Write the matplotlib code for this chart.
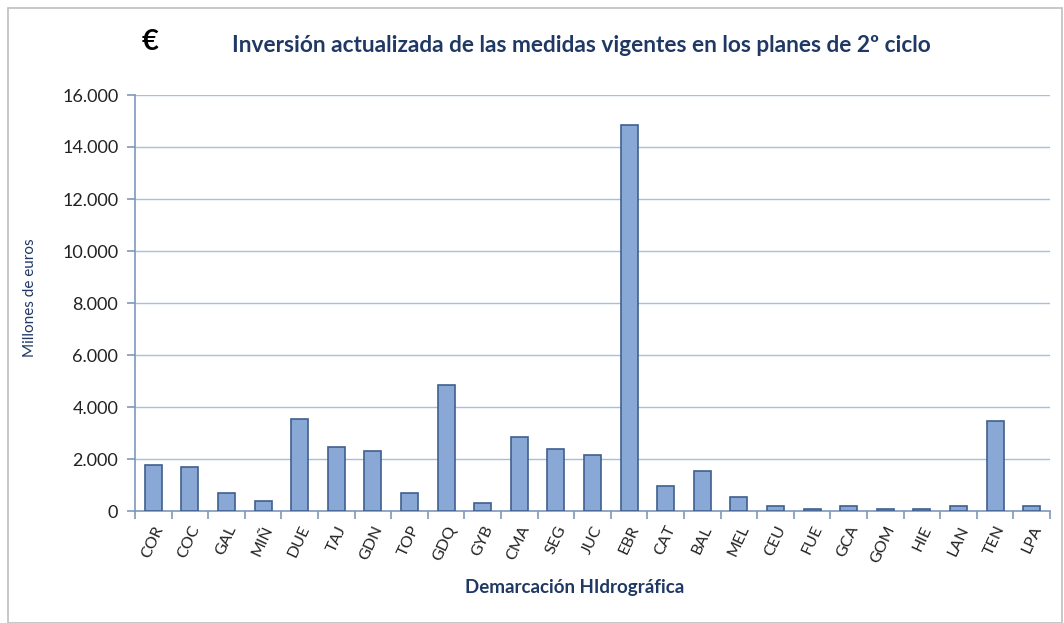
import matplotlib
matplotlib.use("Agg")
import matplotlib.pyplot as plt
from matplotlib.patches import Rectangle
from matplotlib.ticker import FuncFormatter

plt.rcParams['font.family'] = ['Lato', 'DejaVu Sans']

categories = ["COR", "COC", "GAL", "MIÑ", "DUE", "TAJ", "GDN", "TOP", "GDQ", "GYB",
              "CMA", "SEG", "JUC", "EBR", "CAT", "BAL", "MEL", "CEU", "FUE", "GCA",
              "GOM", "HIE", "LAN", "TEN", "LPA"]
inversion = [1760, 1690, 680, 390, 3540, 2460, 2300, 680, 4850, 300,
             2850, 2380, 2150, 14850, 980, 1530, 530, 200, 80, 200,
             80, 70, 200, 3460, 200]
y_ticks = [0, 2000, 4000, 6000, 8000, 10000, 12000, 14000, 16000]

navy = "#1F3864"
grid_c = "#A7BEDC"
axis_c = "#7F97BC"

fig = plt.figure(figsize=(10.64, 6.23), dpi=100)
W, H = 1064, 623

# outer chart frame
fig.patches.append(Rectangle((8 / W, 0), (1062 - 8) / W, (H - 8) / H,
                             transform=fig.transFigure, fill=False,
                             edgecolor="#BFBFBF", linewidth=1.2))

n = len(categories)
ax = fig.add_axes([135 / W, 1 - 511 / H, 915 / W, (511 - 95) / H])
x = list(range(n))
ax.bar(x, inversion, width=0.46, color="#8AA8D6", edgecolor="#3F5F8F",
       linewidth=1.2, zorder=3)

ax.set_xlim(-0.5, n - 0.5)
ax.set_ylim(0, 16000)
ax.set_yticks(y_ticks)
ax.yaxis.set_major_formatter(FuncFormatter(lambda v, p: f"{int(v):,}".replace(",", ".")))
ax.grid(axis="y", color=grid_c, linewidth=1.0, zorder=0)

ax.set_xticks(x)
ax.set_xticklabels(categories, rotation=65, ha="right", rotation_mode="anchor",
                   fontsize=11.5, color="#222222")
ax.set_xticks([i - 0.5 for i in range(n + 1)], minor=True)
ax.tick_params(axis="x", which="major", length=0, pad=9)
ax.tick_params(axis="x", which="minor", length=6, color=axis_c, width=1.2, direction="out")
ax.tick_params(axis="y", length=6, color=axis_c, width=1.2, direction="out",
               labelsize=13, labelcolor="#222222", pad=6)

for s in ["top", "right"]:
    ax.spines[s].set_visible(False)
for s in ["left", "bottom"]:
    ax.spines[s].set_color(axis_c)
    ax.spines[s].set_linewidth(1.2)

fig.text(581 / W, 1 - 45 / H, "Inversión actualizada de las medidas vigentes en los planes de 2º ciclo",
         ha="center", va="center", fontsize=16.3, fontweight="bold", color=navy)
fig.text(150 / W, 1 - 42 / H, "€", ha="center", va="center", fontsize=21,
         fontweight="bold", color="black")
fig.text(30 / W, 1 - 298 / H, "Millones de euros", rotation=90, ha="center",
         va="center", fontsize=11, color=navy)
fig.text(575 / W, 1 - 588 / H, "Demarcación HIdrográfica", ha="center", va="center",
         fontsize=13.5, fontweight="bold", color=navy)

fig.savefig("out.png", dpi=100, facecolor="white")
